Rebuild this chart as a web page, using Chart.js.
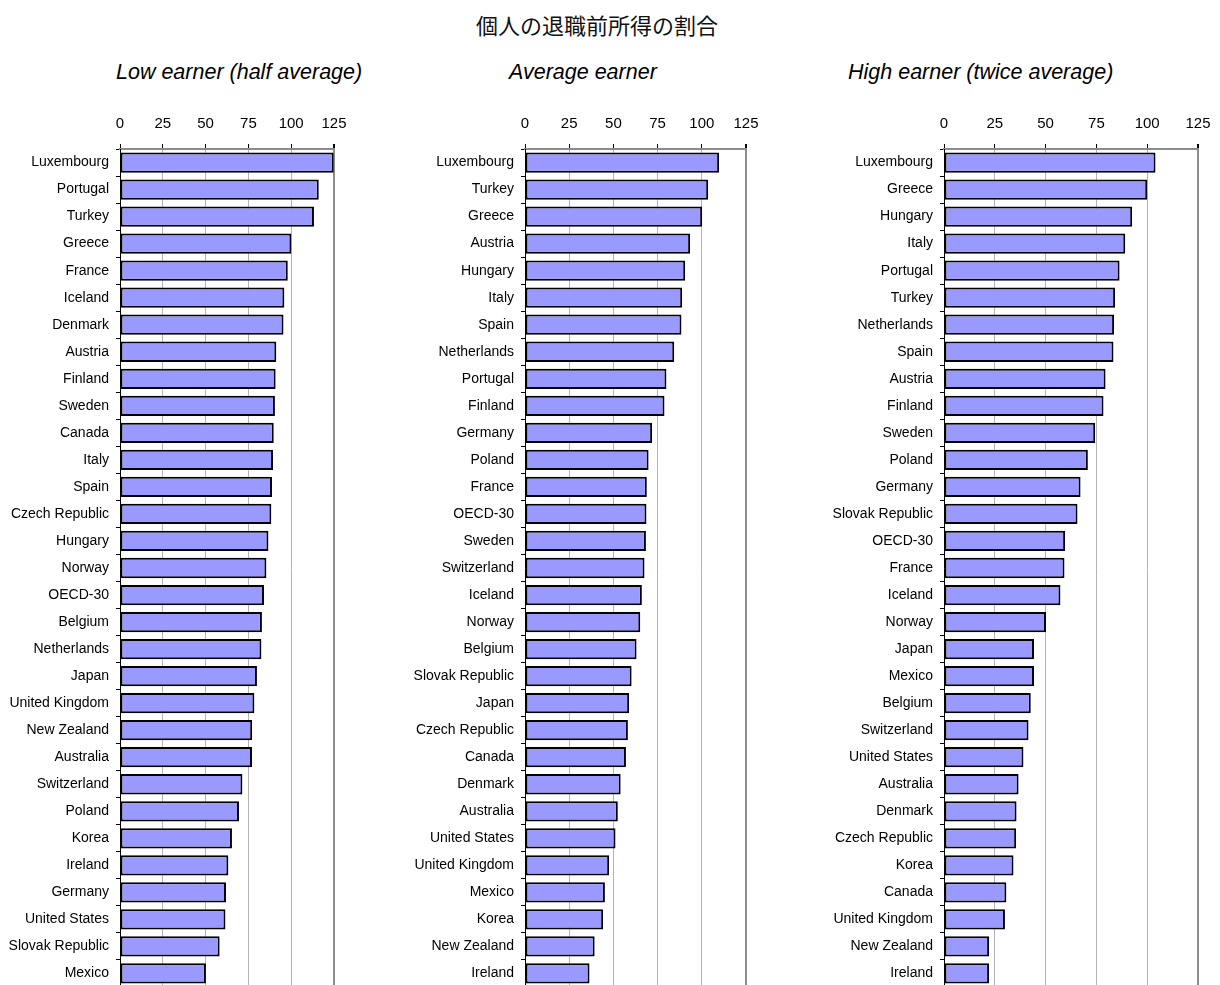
<!DOCTYPE html>
<html>
<head>
<meta charset="utf-8">
<script src="https://cdn.jsdelivr.net/npm/chart.js"></script>
<style>
  body { margin: 0; background: #fff; overflow: hidden; width: 1220px; height: 985px; position: relative; }
  .title { position: absolute; top: 10px; left: 0; width: 1194px; text-align: center; font-family: "Noto Sans CJK JP", sans-serif; font-size: 22px; line-height: 28px; color: #111; font-weight: normal; }
  .sub { position: absolute; top: 60px; font-family: "Liberation Sans", Arial, sans-serif; font-style: italic; font-size: 21.5px; line-height: 24px; color: #000; white-space: nowrap; }
  canvas { position: absolute; top: 100px; }
</style>
</head>
<body>
<div class="title">個人の退職前所得の割合</div>
<div class="sub" style="left:116px">Low earner (half average)</div>
<div class="sub" style="left:509px">Average earner</div>
<div class="sub" style="left:848px">High earner (twice average)</div>
<canvas id="low" width="360" height="887" style="left:0px"></canvas>
<canvas id="avg" width="390" height="887" style="left:380px"></canvas>
<canvas id="high" width="430" height="887" style="left:790px"></canvas>
<script>
const xTicks = [0, 25, 50, 75, 100, 125];

const lowLabels = ["Luxembourg", "Portugal", "Turkey", "Greece", "France", "Iceland", "Denmark", "Austria",
  "Finland", "Sweden", "Canada", "Italy", "Spain", "Czech Republic", "Hungary", "Norway", "OECD-30",
  "Belgium", "Netherlands", "Japan", "United Kingdom", "New Zealand", "Australia", "Switzerland",
  "Poland", "Korea", "Ireland", "Germany", "United States", "Slovak Republic", "Mexico"];
const lowValues = [124.8, 116.1, 113.3, 100.1, 98.0, 96.0, 95.5, 91.3,
  90.9, 90.5, 89.8, 89.4, 88.8, 88.4, 86.7, 85.5, 84.1,
  82.9, 82.6, 80.0, 78.5, 77.2, 77.1, 71.5,
  69.5, 65.4, 63.3, 61.9, 61.6, 58.2, 50.2];

const avgLabels = ["Luxembourg", "Turkey", "Greece", "Austria", "Hungary", "Italy", "Spain", "Netherlands",
  "Portugal", "Finland", "Germany", "Poland", "France", "OECD-30", "Sweden", "Switzerland", "Iceland",
  "Norway", "Belgium", "Slovak Republic", "Japan", "Czech Republic", "Canada", "Denmark", "Australia",
  "United States", "United Kingdom", "Mexico", "Korea", "New Zealand", "Ireland"];
const avgValues = [109.8, 103.6, 100.2, 93.4, 90.6, 88.9, 88.5, 84.4,
  80.0, 78.9, 71.9, 69.9, 68.9, 68.7, 68.4, 67.6, 66.1,
  65.2, 63.1, 60.3, 58.9, 58.2, 57.1, 54.1, 52.5,
  51.2, 47.6, 45.2, 44.2, 39.4, 36.5];

const highLabels = ["Luxembourg", "Greece", "Hungary", "Italy", "Portugal", "Turkey", "Netherlands", "Spain",
  "Austria", "Finland", "Sweden", "Poland", "Germany", "Slovak Republic", "OECD-30", "France", "Iceland",
  "Norway", "Japan", "Mexico", "Belgium", "Switzerland", "United States", "Australia", "Denmark",
  "Czech Republic", "Korea", "Canada", "United Kingdom", "New Zealand", "Ireland"];
const highValues = [104.1, 100.0, 92.6, 89.2, 86.4, 84.2, 83.7, 83.4,
  79.5, 78.5, 74.4, 70.8, 67.2, 65.7, 59.6, 59.3, 57.3,
  50.2, 44.3, 44.3, 42.7, 41.6, 39.1, 36.7, 35.7,
  35.5, 34.2, 30.7, 30.0, 22.2, 22.2];

Chart.defaults.font.family = "'Liberation Sans', Arial, sans-serif";
Chart.defaults.color = "#000";

function makeChart(id, labels, values, axisWidth, padRight) {
  const data = {
    labels: labels,
    datasets: [
      {
        data: values,
        backgroundColor: "#9999ff",
        borderColor: "#000",
        borderWidth: 2,
        borderSkipped: false,
        barPercentage: 0.75,
        categoryPercentage: 1
      }
    ]
  };

  const config = {
    type: "bar",
    data: data,
    options: {
      indexAxis: "y",
      responsive: false,
      animation: false,
      layout: { padding: { left: 0, right: padRight, top: 0, bottom: 0 } },
      plugins: {
        legend: { display: false },
        tooltip: { enabled: false }
      },
      scales: {
        x: {
          position: "top",
          min: 0,
          max: 125,
          afterBuildTicks: function (scale) {
            scale.ticks = xTicks.map(function (v) { return { value: v }; });
          },
          afterFit: function (scale) {
            scale.height = 49;
            scale.paddingLeft = 0;
            scale.paddingRight = 0;
          },
          ticks: { font: { size: 15 }, padding: 11, maxRotation: 0 },
          grid: {
            color: function (c) { return c.index === xTicks.length - 1 ? "#8c8c8c" : "#b4b4b4"; },
            lineWidth: function (c) { return c.index === xTicks.length - 1 ? 2 : 1; },
            tickColor: "#000",
            tickLength: 5
          },
          border: { color: "#8c8c8c", width: 2 }
        },
        y: {
          afterFit: function (scale) {
            scale.width = axisWidth;
            scale.paddingTop = 0;
            scale.paddingBottom = 0;
          },
          ticks: { font: { size: 14 }, padding: 7, autoSkip: false },
          grid: {
            drawOnChartArea: false,
            offset: true,
            tickColor: "#000",
            tickLength: 4
          },
          border: { color: "#000", width: 1 }
        }
      }
    }
  };

  const ctx = document.getElementById(id);
  new Chart(ctx, config);
}

makeChart("low", lowLabels, lowValues, 120, 26);
makeChart("avg", avgLabels, avgValues, 145, 24);
makeChart("high", highLabels, highValues, 154, 22);
</script>
</body>
</html>
